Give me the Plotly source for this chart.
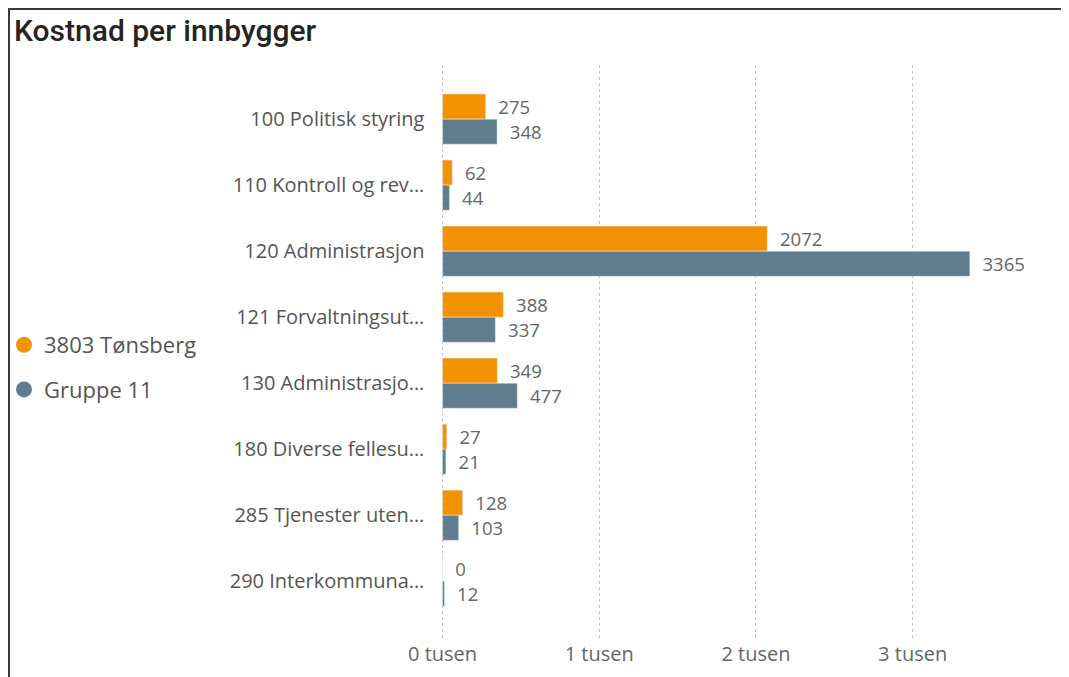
import plotly.graph_objects as go

categories = ["100 Politisk styring", "110 Kontroll og rev…", "120 Administrasjon",
              "121 Forvaltningsut…", "130 Administrasjo…", "180 Diverse fellesu…",
              "285 Tjenester uten…", "290 Interkommuna…"]
tonsberg = [275, 62, 2072, 388, 349, 27, 128, 0]
gruppe11 = [348, 44, 3365, 337, 477, 21, 103, 12]
tick_vals = [0, 1000, 2000, 3000]
tick_text = ["0 tusen", "1 tusen", "2 tusen", "3 tusen"]

ORANGE = "#F39200"
BLUE = "#607D8D"
FONT = "Open Sans, Noto Sans, sans-serif"

L, R, T, B = 433, 39, 57, 45
PW = 1069 - L - R
PH = 677 - T - B

fig = go.Figure()
for name, vals, col in [("3803 Tønsberg", tonsberg, ORANGE), ("Gruppe 11", gruppe11, BLUE)]:
    fig.add_trace(go.Bar(
        y=categories, x=vals, orientation="h", name=name, marker_color=col,
        showlegend=False, text=[f"  {v}" for v in vals], textposition="outside",
        textfont=dict(size=20, color="#666666", family=FONT), cliponaxis=False,
        hoverinfo="x+y"))
    fig.add_trace(go.Scatter(
        x=[None], y=[None], mode="markers", name=name, legendgroup=name,
        marker=dict(symbol="circle", size=16, color=col)))

top_y = 1 + (T - 1) / PH
fig.update_layout(
    width=1069, height=677,
    paper_bgcolor="white", plot_bgcolor="white",
    margin=dict(l=L, r=R, t=T, b=B, autoexpand=False),
    barmode="group", bargap=0.24, bargroupgap=0,
    font=dict(family=FONT, color="#605E5C"),
    title=dict(text="Kostnad per innbygger", x=6/1069, xanchor="left", y=1-22/677, yanchor="middle",
               font=dict(family="Roboto, sans-serif", size=30, color="#252423", weight=500)),
    legend=dict(x=(-12 - L + 8) / PW, xanchor="left", y=1 - (324 - 65) / PH, yanchor="top",
                font=dict(size=22, color="#555555", family=FONT),
                tracegroupgap=13, itemwidth=30, bgcolor="rgba(0,0,0,0)"),
    xaxis=dict(range=[-10, 3800], tickvals=tick_vals, ticktext=tick_text,
               showgrid=True, gridcolor="#C4C4C4", griddash="dot", gridwidth=1,
               zeroline=False, showline=False, ticks="",
               tickfont=dict(size=20, color="#666666")),
    yaxis=dict(categoryorder="array", categoryarray=categories,
               range=[7.89, -0.82], showgrid=False, zeroline=False, ticks="",
               tickfont=dict(size=20, color="#555555"), ticksuffix="   "),
    shapes=[
        dict(type="line", xref="paper", yref="paper", x0=(0 - L) / PW, x1=(1056 - L) / PW,
             y0=top_y, y1=top_y, line=dict(color="#3A3A3A", width=2)),
        dict(type="line", xref="paper", yref="paper", x0=(1 - L) / PW, x1=(1 - L) / PW,
             y0=top_y, y1=-0.2, line=dict(color="#3A3A3A", width=2)),
        dict(type="line", xref="paper", yref="paper", x0=(1055 - L) / PW, x1=(1055 - L) / PW,
             y0=top_y, y1=-0.2, line=dict(color="#C8C8C8", width=1)),
    ],
)

fig.write_html("out.html")
